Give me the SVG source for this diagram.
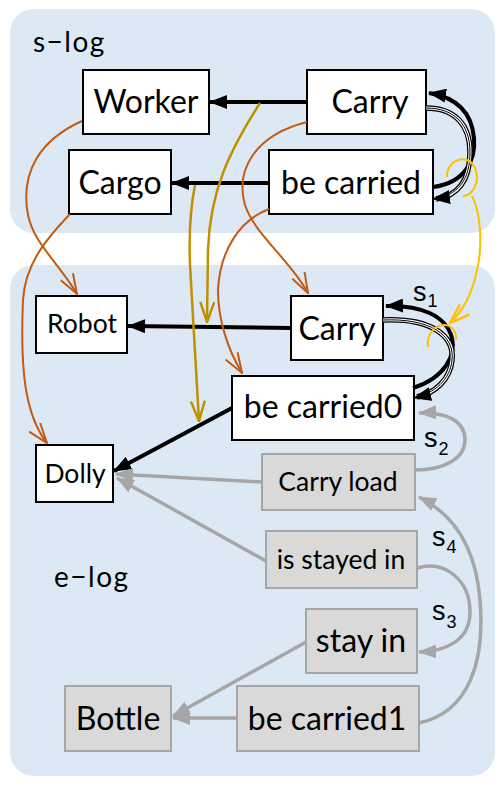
<svg xmlns="http://www.w3.org/2000/svg" width="503" height="789" viewBox="0 0 503 789">
<style>
.panel{fill:#dde8f5;stroke:none}
.nb{fill:#ffffff;stroke:#000;stroke-width:2}
.ng{fill:#d9d9d9;stroke:#a6a6a6;stroke-width:2}
text{font-family:Lato,"Liberation Sans",sans-serif;fill:#000}
.big{font-size:32px;text-anchor:middle}
.sm{font-size:26.5px;text-anchor:middle}
.lbl{font-size:28px;letter-spacing:1.5px}
.sub{font-family:"Liberation Sans",Arial,sans-serif;font-size:27px}
.eb{stroke:#000;stroke-width:4;fill:none}
.eg{stroke:#a6a6a6;stroke-width:3.5;fill:none}
.eo{stroke:#c55a11;stroke-width:2;fill:none}
.ev{stroke:#bf9000;stroke-width:2.5;fill:none}
.ey{stroke:#ffc000;stroke-width:2;fill:none}
</style>
<defs>
<marker id="ab" markerUnits="userSpaceOnUse" viewBox="0 0 18 14" refX="17" refY="7" markerWidth="18" markerHeight="14" orient="auto"><path d="M0,0 L18,7 L0,14 z" fill="#000"/></marker>
<marker id="ag" markerUnits="userSpaceOnUse" viewBox="0 0 18 14" refX="17" refY="7" markerWidth="18" markerHeight="14" orient="auto"><path d="M0,0 L18,7 L0,14 z" fill="#a6a6a6"/></marker>
<marker id="ao" markerUnits="userSpaceOnUse" viewBox="0 0 22 16" refX="21" refY="8" markerWidth="22" markerHeight="16" orient="auto"><path d="M1,1 L21,8 L1,15" fill="none" stroke="#c55a11" stroke-width="2"/></marker>
<marker id="av" markerUnits="userSpaceOnUse" viewBox="0 0 22 16" refX="21" refY="8" markerWidth="22" markerHeight="16" orient="auto"><path d="M1,1 L21,8 L1,15" fill="none" stroke="#bf9000" stroke-width="2.5"/></marker>
<marker id="ay" markerUnits="userSpaceOnUse" viewBox="0 0 22 16" refX="21" refY="8" markerWidth="22" markerHeight="16" orient="auto"><path d="M1,1 L21,8 L1,15" fill="none" stroke="#ffc000" stroke-width="2.5"/></marker>
</defs>

<g id="panels">
<rect class="panel" x="10" y="9" width="485" height="224" rx="24"/>
<rect class="panel" x="10" y="265" width="485" height="511" rx="24"/>
<text class="lbl" x="33" y="52">s−log</text>
<text class="lbl" x="54" y="587">e−log</text>
</g>

<g id="n-worker"><rect class="nb" x="83" y="70" width="126" height="64"/><text class="big" x="146" y="113">Worker</text></g>
<g id="n-carry-s"><rect class="nb" x="307" y="70" width="119" height="64"/><text class="big" x="370" y="113">Carry</text></g>
<g id="n-cargo"><rect class="nb" x="69" y="150" width="102" height="64"/><text class="big" x="120" y="194">Cargo</text></g>
<g id="n-becarried"><rect class="nb" x="269" y="150" width="164" height="64"/><text class="big" x="351" y="194">be carried</text></g>

<g id="n-robot"><rect class="nb" x="36" y="296" width="91" height="57"/><text class="sm" x="82" y="333">Robot</text></g>
<g id="n-carry-e"><rect class="nb" x="291" y="296" width="92" height="64"/><text class="big" x="337" y="340">Carry</text></g>
<g id="n-becarried0"><rect class="nb" x="232" y="376" width="182" height="64"/><text class="big" x="323" y="418">be carried0</text></g>
<g id="n-dolly"><rect class="nb" x="36" y="445" width="77" height="57"/><text class="sm" x="75" y="483">Dolly</text></g>
<g id="n-carryload"><rect class="ng" x="262" y="454" width="153" height="56"/><text class="sm" x="338" y="491">Carry load</text></g>
<g id="n-isstayedin"><rect class="ng" x="266" y="531" width="151" height="57"/><text class="sm" x="341" y="569">is stayed in</text></g>
<g id="n-stayin"><rect class="ng" x="306" y="609" width="111" height="64"/><text class="big" x="361" y="652">stay in</text></g>
<g id="n-bottle"><rect class="ng" x="65" y="686" width="106" height="65"/><text class="big" x="118" y="730">Bottle</text></g>
<g id="n-becarried1"><rect class="ng" x="237" y="686" width="182" height="65"/><text class="big" x="327" y="730">be carried1</text></g>

<g id="connectors">
<path class="eb" d="M307,102 L210,102" marker-end="url(#ab)"/>
<path class="eb" d="M269,183 L172,183" marker-end="url(#ab)"/>
<path class="eb" d="M291,328 L128,326" marker-end="url(#ab)"/>
<path class="eb" d="M232,408 L114,471" marker-end="url(#ab)"/>

<path class="eb" d="M433,187 C465,183 476,160 474,138 C472,115 460,98 429,93" marker-end="url(#ab)"/>
<path d="M426,108 C455,108 470,125 470,152 C470,180 458,196 436,199" fill="none" stroke="#000" stroke-width="5.5"/>
<path d="M426,108 C455,108 470,125 470,152 C470,180 458,196 436,199" fill="none" stroke="#fff" stroke-width="3"/>
<path d="M426,108 C455,108 470,125 470,152 C470,180 458,196 433,199" fill="none" stroke="#000" stroke-width="1" marker-end="url(#ab)"/>

<path class="eb" d="M413,388 C445,378 456,355 452,338 C446,315 420,305 386,306" marker-end="url(#ab)"/>
<path d="M383,320 C430,318 455,335 452,360 C450,380 435,393 417,397" fill="none" stroke="#000" stroke-width="5.5"/>
<path d="M383,320 C430,318 455,335 452,360 C450,380 435,393 417,397" fill="none" stroke="#fff" stroke-width="3"/>
<path d="M383,320 C430,318 455,335 452,360 C450,380 435,393 414,398" fill="none" stroke="#000" stroke-width="1" marker-end="url(#ab)"/>

<path class="eg" d="M262,482 L116,474" marker-end="url(#ag)"/>
<path class="eg" d="M266,561 L117,478" marker-end="url(#ag)"/>
<path class="eg" d="M415,470 C445,470 465,458 465,440 C465,420 445,412 419,413" marker-end="url(#ag)"/>
<path class="eg" d="M417,568 C445,560 470,580 470,612 C470,640 447,651 419,652" marker-end="url(#ag)"/>
<path class="eg" d="M419,723 C470,712 485,660 480,600 C476,550 455,515 419,497" marker-end="url(#ag)"/>
<path class="eg" d="M306,642 L173,716" marker-end="url(#ag)"/>
<path class="eg" d="M237,718 L173,718" marker-end="url(#ag)"/>

<path class="eo" d="M82,121 C40,140 20,172 28,215 C33,242 60,265 77,294" marker-end="url(#ao)"/>
<path class="eo" d="M70,214 C50,235 25,262 23,300 C20,370 25,415 47,443" marker-end="url(#ao)"/>
<path class="eo" d="M307,122 C255,135 235,170 245,205 C255,235 290,260 308,293" marker-end="url(#ao)"/>
<path class="eo" d="M269,209 C240,220 220,250 218,290 C218,320 228,350 242,373" marker-end="url(#ao)"/>

<path class="ev" d="M260,103 C230,150 210,190 208,250 L207,322" marker-end="url(#av)"/>
<path class="ev" d="M195,185 C190,210 189,240 190,265 L199,421" marker-end="url(#av)"/>

<path class="ey" d="M447,177 C446,160 468,152 475,168 C481,182 472,196 463,196"/>
<path class="ey" d="M472,196 C482,215 482,250 477,270 C472,295 462,312 450,323" marker-end="url(#ay)"/>
<path class="ey" d="M428,347 C426,332 437,325 444,325 C452,325 457,332 456,340"/>
</g>

<g id="labels">
<text class="sub" x="413" y="301">s<tspan font-size="18" dx="1" dy="6">1</tspan></text>
<text class="sub" x="424" y="447">s<tspan font-size="18" dx="1" dy="8">2</tspan></text>
<text class="sub" x="432" y="546">s<tspan font-size="18" dx="1" dy="7">4</tspan></text>
<text class="sub" x="432" y="620">s<tspan font-size="18" dx="1" dy="8">3</tspan></text>
</g>
</svg>
